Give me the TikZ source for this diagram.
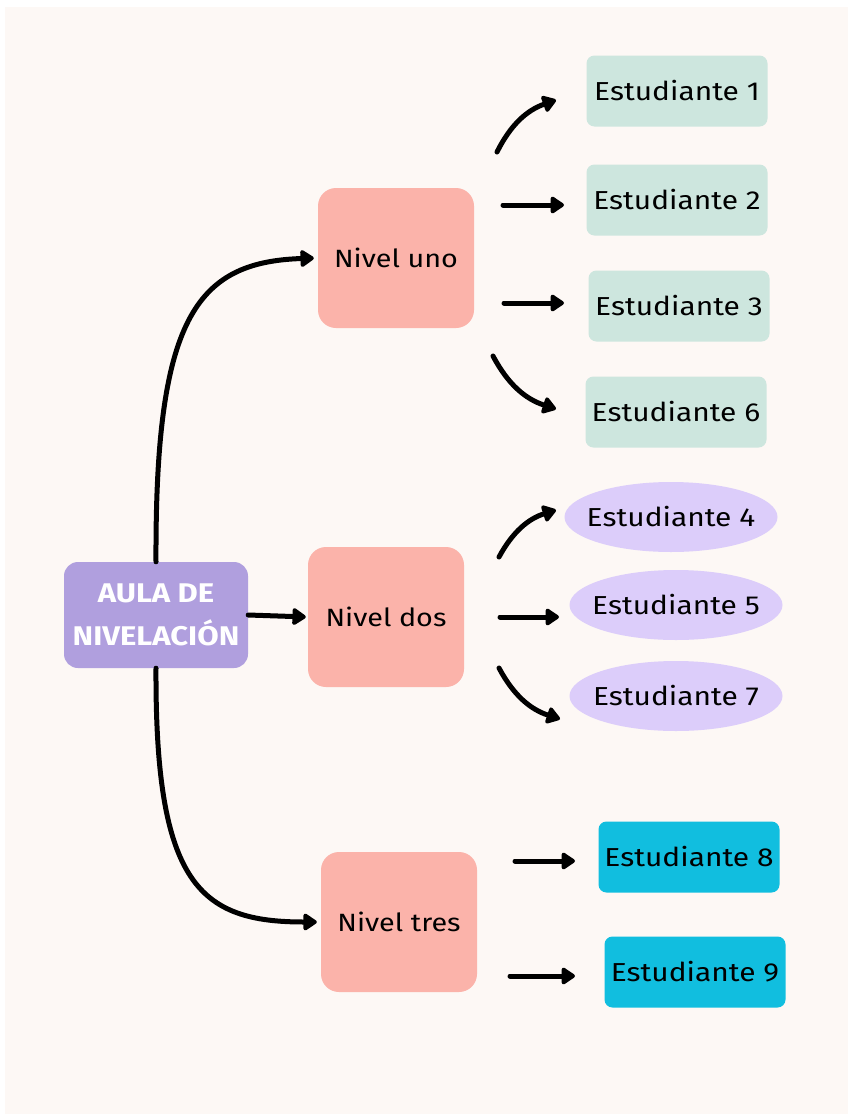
\documentclass[tikz,border=0pt]{standalone}
\usepackage{fontspec}
\setmainfont{Fira Sans}[FakeStretch=1.15]
\usetikzlibrary{arrows.meta,shapes.geometric}
\definecolor{cream}{HTML}{FDF8F5}
\definecolor{aulac}{HTML}{B09FDE}
\definecolor{nivelc}{HTML}{FBB3AA}
\definecolor{mintc}{HTML}{CDE6DE}
\definecolor{lavc}{HTML}{DCCDFA}
\definecolor{cyanc}{HTML}{11BEDF}
\tikzset{
  txt/.style={font=\fontsize{26}{30}\selectfont, text=black},
  aulabox/.style={fill=aulac, rounded corners=14pt, minimum width=184pt, minimum height=106pt, inner sep=2pt, align=center, text=white, font=\fontsize{27}{43}\selectfont\bfseries},
  nivelbox/.style={fill=nivelc, rounded corners=18pt, minimum width=156pt, minimum height=140pt, font=\fontsize{25}{30}\selectfont},
  mintbox/.style={txt, fill=mintc, rounded corners=8pt, minimum width=181pt, minimum height=71pt},
  lavell/.style={ellipse, fill=lavc, minimum width=213pt, minimum height=70pt, inner sep=0pt},
  ltxt/.style={txt, inner sep=0pt},
  cyanbox/.style={txt, fill=cyanc, rounded corners=8pt, minimum width=181pt, minimum height=71pt},
  arr/.style={line width=5pt, line cap=round, -{Triangle[length=15pt,width=19pt,round]}},
}
\begin{document}
\begin{tikzpicture}[x=1pt,y=-1pt]
\useasboundingbox (0,0) rectangle (848,1114);
\fill[white] (0,0) rectangle (848,1114);
\fill[cream] (5,7) rectangle (848,1114);

% main nodes
\node[aulabox] (aula) at (156,615) {AULA DE\\NIVELACIÓN};
\node[nivelbox] (n1) at (396,258) {Nivel uno};
\node[nivelbox] (n2) at (386,617) {Nivel dos};
\node[nivelbox] (n3) at (399,922) {Nivel tres};

% students
\node[mintbox] (e1) at (677,91) {Estudiante 1};
\node[mintbox] (e2) at (677,200) {Estudiante 2};
\node[mintbox] (e3) at (679,306) {Estudiante 3};
\node[mintbox] (e6) at (676,412) {Estudiante 6};
\node[lavell, label={[ltxt]center:Estudiante 4}] (e4) at (671,517) {};
\node[lavell, label={[ltxt]center:Estudiante 5}] (e5) at (676,605) {};
\node[lavell, label={[ltxt]center:Estudiante 7}] (e7) at (676,696) {};
\node[cyanbox] (e8) at (689,857) {Estudiante 8};
\node[cyanbox] (e9) at (695,972) {Estudiante 9};

% main connectors
\draw[arr, shorten >=4pt] (aula.north) .. controls (155,320) and (195,262) .. (n1.west);
\draw[arr, shorten >=2pt] (aula.east) -- (n2.west);
\draw[arr, shorten >=4pt] (aula.south) .. controls (155,885) and (200,922) .. (n3.west);

% free arrow ends
\coordinate (a1s) at (497,152); \coordinate (a1e) at (556,100);
\coordinate (a2s) at (503,205); \coordinate (a2e) at (564,205);
\coordinate (a3s) at (504,303); \coordinate (a3e) at (564,303);
\coordinate (a6s) at (493,356); \coordinate (a6e) at (556,409);
\coordinate (a4s) at (499,557); \coordinate (a4e) at (556,510);
\coordinate (a5s) at (500,617); \coordinate (a5e) at (559,617);
\coordinate (a7s) at (499,668); \coordinate (a7e) at (560,719);
\coordinate (a8s) at (515,861); \coordinate (a8e) at (575,861);
\coordinate (a9s) at (510,976); \coordinate (a9e) at (575,976);

\draw[arr] (a1s) to[bend left=22] (a1e);
\draw[arr] (a2s) -- (a2e);
\draw[arr] (a3s) -- (a3e);
\draw[arr] (a6s) to[bend right=22] (a6e);
\draw[arr] (a4s) to[bend left=22] (a4e);
\draw[arr] (a5s) -- (a5e);
\draw[arr] (a7s) to[bend right=22] (a7e);
\draw[arr] (a8s) -- (a8e);
\draw[arr] (a9s) -- (a9e);
\end{tikzpicture}
\end{document}
